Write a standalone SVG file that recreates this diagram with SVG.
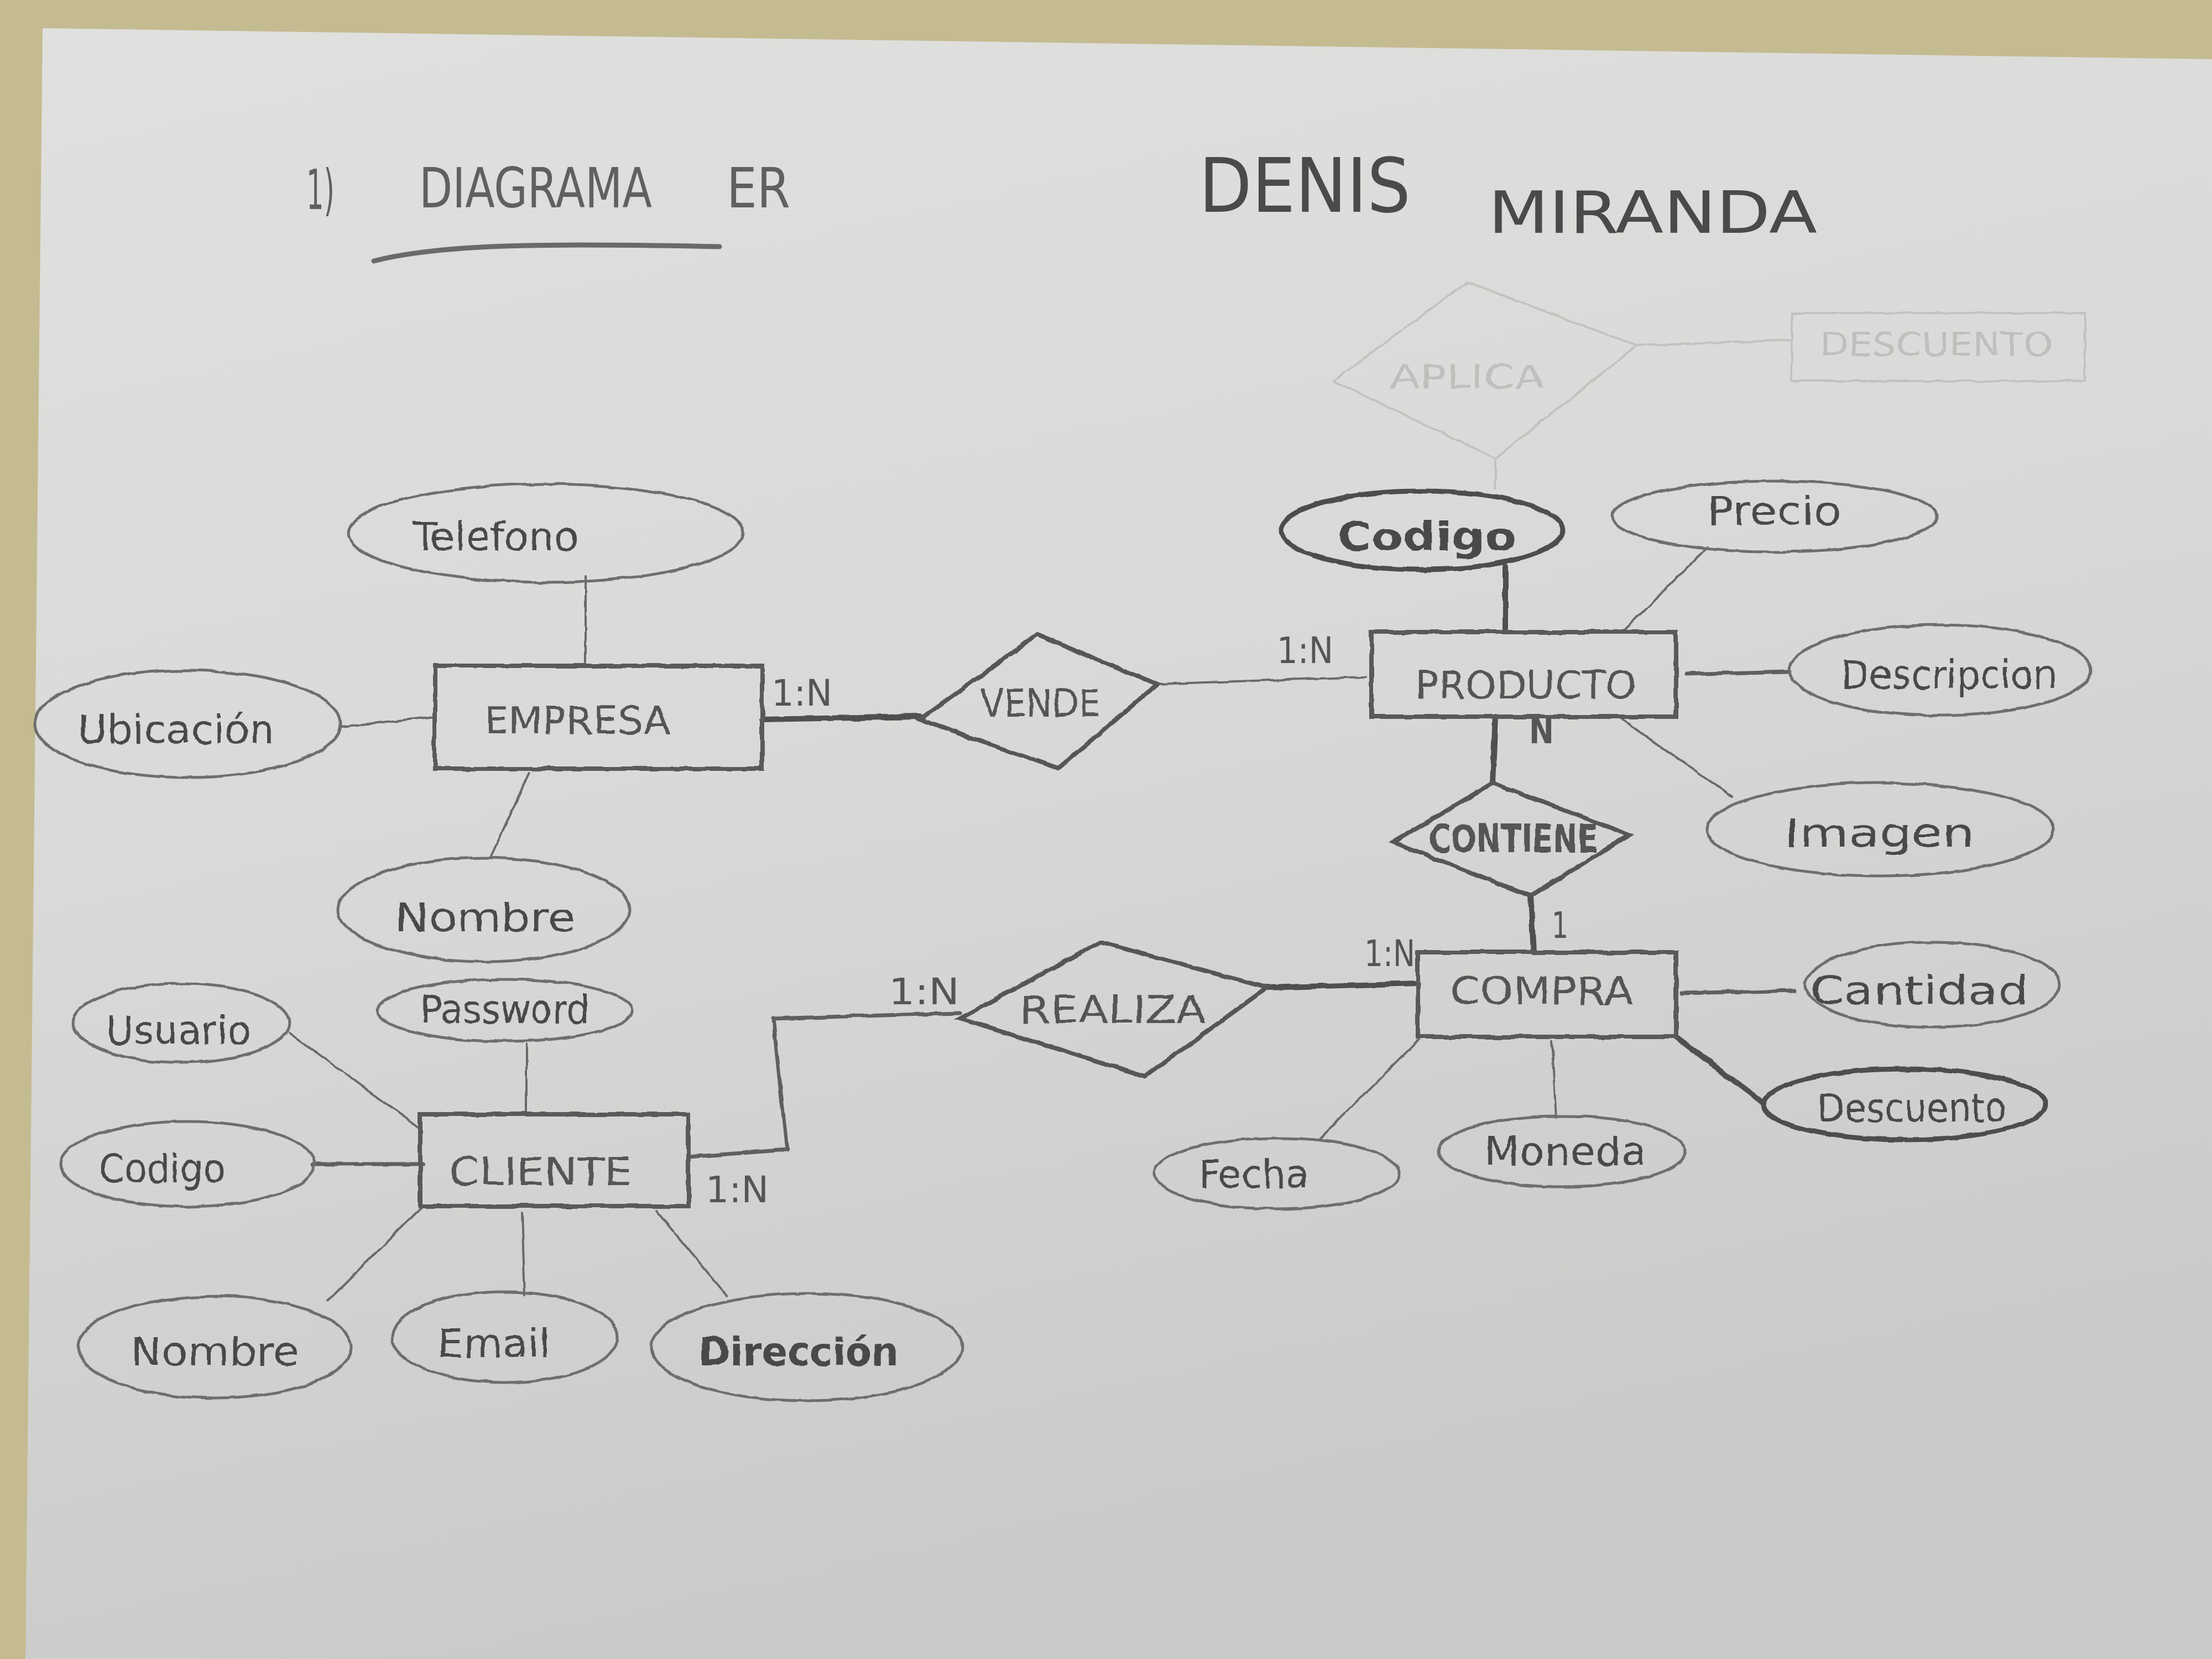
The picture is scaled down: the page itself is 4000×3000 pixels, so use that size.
<svg xmlns="http://www.w3.org/2000/svg" width="4000" height="3000" viewBox="0 0 4000 3000">
<defs>
<linearGradient id="paper" x1="0" y1="0" x2="0.3" y2="1">
<stop offset="0" stop-color="#e0e0de"/>
<stop offset="0.5" stop-color="#d9d9d7"/>
<stop offset="1" stop-color="#cacac8"/>
</linearGradient>
<filter id="pencil" x="-5%" y="-5%" width="110%" height="110%">
<feTurbulence type="fractalNoise" baseFrequency="0.03" numOctaves="2" seed="3" result="n"/>
<feDisplacementMap in="SourceGraphic" in2="n" scale="6" xChannelSelector="R" yChannelSelector="G"/>
</filter>
<style>
.ent{fill:none;stroke:#5a5a5a;stroke-width:8}
.rel{fill:none;stroke:#575757;stroke-width:8}
.att{fill:none;stroke:#6e6e6e;stroke-width:5}
.key{fill:none;stroke:#4e4e4e;stroke-width:9}
.ln{fill:none;stroke:#6a6a6a;stroke-width:4;stroke-linecap:round;stroke-linejoin:round}
.md{fill:none;stroke:#5e5e5e;stroke-width:7;stroke-linecap:round;stroke-linejoin:round}
.tk{fill:none;stroke:#4f4f4f;stroke-width:10;stroke-linecap:round;stroke-linejoin:round}
.faint{fill:none;stroke:#c2c2c0;stroke-width:4}
text{font-family:"DejaVu Sans Condensed","DejaVu Sans",sans-serif;fill:#4a4a4a}
.t{font-size:72px}
.e{font-size:70px;fill:#555}
.c{font-size:66px;fill:#555}
.h{font-size:100px;fill:#606060}
.ft{font-size:58px;fill:#bfbfbd}
</style>
</defs>
<rect width="4000" height="3000" fill="#c4bb91"/>
<polygon points="77,51 4000,107 4000,3000 46,3000" fill="url(#paper)"/>

<g id="title">
<text class="h" x="554" y="378" textLength="51" lengthAdjust="spacingAndGlyphs">1)</text>
<text class="h" x="758" y="375" textLength="421" lengthAdjust="spacingAndGlyphs">DIAGRAMA</text>
<text class="h" x="1314" y="375" textLength="115" lengthAdjust="spacingAndGlyphs">ER</text>
<path d="M676,472 C800,440 1000,440 1301,446" fill="none" stroke="#6a6a6a" stroke-width="9" stroke-linecap="round"/>
<text x="2168" y="383" font-size="135" fill="#5a5a5a" textLength="383" lengthAdjust="spacingAndGlyphs">DENIS</text>
<text x="2691" y="421" font-size="105" fill="#5a5a5a" textLength="595" lengthAdjust="spacingAndGlyphs">MIRANDA</text>
</g>

<g id="erased" filter="url(#pencil)">
<polygon class="faint" points="2411,689 2653,510 2959,625 2704,829"/>
<text class="ft" x="2513" y="702" textLength="280" lengthAdjust="spacingAndGlyphs">APLICA</text>
<rect class="faint" x="3240" y="566" width="530" height="123"/>
<text class="ft" x="3291" y="643" textLength="421" lengthAdjust="spacingAndGlyphs">DESCUENTO</text>
<line class="faint" x1="2959" y1="625" x2="3240" y2="615"/>
<line class="faint" x1="2704" y1="829" x2="2704" y2="885"/>
</g>

<g id="connectors" filter="url(#pencil)">
<line class="ln" x1="1059" y1="1041" x2="1059" y2="1199"/>
<line class="ln" x1="617" y1="1314" x2="786" y2="1296"/>
<line class="ln" x1="957" y1="1398" x2="888" y2="1548"/>
<line class="tk" x1="1378" y1="1301" x2="1663" y2="1296"/>
<line class="ln" x1="2092" y1="1237" x2="2469" y2="1224"/>
<line class="tk" x1="2722" y1="1025" x2="2722" y2="1140"/>
<line class="ln" x1="3087" y1="990" x2="2934" y2="1143"/>
<line class="md" x1="3049" y1="1219" x2="3235" y2="1214"/>
<line class="ln" x1="2934" y1="1301" x2="3133" y2="1441"/>
<line class="tk" x1="2704" y1="1296" x2="2699" y2="1416"/>
<line class="tk" x1="2768" y1="1620" x2="2773" y2="1722"/>
<line class="tk" x1="2291" y1="1786" x2="2564" y2="1778"/>
<polyline class="md" points="1245,2092 1423,2079 1398,1842 1735,1832"/>
<line class="md" x1="3041" y1="1796" x2="3245" y2="1791"/>
<line class="tk" x1="3031" y1="1875" x2="3189" y2="1995"/>
<line class="ln" x1="2806" y1="1883" x2="2814" y2="2020"/>
<line class="ln" x1="2571" y1="1875" x2="2385" y2="2061"/>
<line class="ln" x1="523" y1="1867" x2="760" y2="2041"/>
<line class="ln" x1="952" y1="1888" x2="952" y2="2015"/>
<line class="md" x1="566" y1="2105" x2="765" y2="2105"/>
<line class="ln" x1="592" y1="2352" x2="765" y2="2181"/>
<line class="ln" x1="944" y1="2194" x2="949" y2="2342"/>
<line class="ln" x1="1186" y1="2189" x2="1314" y2="2342"/>
</g>

<g id="cardinalities">
<text class="c" x="1395" y="1276" textLength="110" lengthAdjust="spacingAndGlyphs">1:N</text>
<text class="c" x="2309" y="1199" textLength="102" lengthAdjust="spacingAndGlyphs">1:N</text>
<text class="c" x="2765" y="1344" font-weight="bold" textLength="45" lengthAdjust="spacingAndGlyphs">N</text>
<text class="c" x="2806" y="1696" textLength="30" lengthAdjust="spacingAndGlyphs">1</text>
<text class="c" x="2467" y="1747" textLength="92" lengthAdjust="spacingAndGlyphs">1:N</text>
<text class="c" x="1607" y="1816" textLength="128" lengthAdjust="spacingAndGlyphs">1:N</text>
<text class="c" x="1276" y="2174" textLength="114" lengthAdjust="spacingAndGlyphs">1:N</text>
</g>

<g id="empresa" filter="url(#pencil)"><rect class="ent" x="786" y="1204" width="592" height="186"/><text class="e" x="875" y="1327" textLength="337" lengthAdjust="spacingAndGlyphs">EMPRESA</text></g>
<g id="producto" filter="url(#pencil)"><rect class="ent" x="2480" y="1143" width="551" height="153"/><text class="e" x="2559" y="1263" textLength="400" lengthAdjust="spacingAndGlyphs">PRODUCTO</text></g>
<g id="compra" filter="url(#pencil)"><rect class="ent" x="2564" y="1722" width="467" height="153"/><text class="e" x="2622" y="1816" textLength="332" lengthAdjust="spacingAndGlyphs">COMPRA</text></g>
<g id="cliente" filter="url(#pencil)"><rect class="ent" x="760" y="2015" width="485" height="166"/><text class="e" x="811" y="2143" font-size="80" textLength="332" lengthAdjust="spacingAndGlyphs">CLIENTE</text></g>

<g id="vende" filter="url(#pencil)"><polygon class="rel" points="1663,1301 1875,1148 2092,1237 1913,1390"/><text class="e" x="1773" y="1296" font-size="62" textLength="217" lengthAdjust="spacingAndGlyphs">VENDE</text></g>
<g id="contiene" filter="url(#pencil)"><polygon class="rel" points="2520,1523 2699,1416 2946,1510 2768,1620"/><text class="e" x="2584" y="1541" font-size="58" font-weight="bold" textLength="306" lengthAdjust="spacingAndGlyphs">CONTIENE</text></g>
<g id="realiza" filter="url(#pencil)"><polygon class="rel" points="1735,1842 1990,1704 2291,1786 2071,1946"/><text class="e" x="1844" y="1850" font-size="62" textLength="337" lengthAdjust="spacingAndGlyphs">REALIZA</text></g>

<g id="telefono" filter="url(#pencil)"><ellipse class="att" cx="987" cy="964" rx="357" ry="89"/><text class="t" x="747" y="995" textLength="299" lengthAdjust="spacingAndGlyphs">Telefono</text></g>
<g id="ubicacion" filter="url(#pencil)"><ellipse class="att" cx="339" cy="1309" rx="276" ry="97"/><text class="t" x="140" y="1344" textLength="357" lengthAdjust="spacingAndGlyphs">Ubicación</text></g>
<g id="nombre-empresa" filter="url(#pencil)"><ellipse class="att" cx="875" cy="1645" rx="263" ry="94"/><text class="t" x="714" y="1684" textLength="327" lengthAdjust="spacingAndGlyphs">Nombre</text></g>
<g id="codigo-producto" filter="url(#pencil)"><ellipse class="key" cx="2571" cy="959" rx="255" ry="71"/><text class="t" x="2418" y="995" font-size="80" font-weight="bold" textLength="324" lengthAdjust="spacingAndGlyphs">Codigo</text></g>
<g id="precio" filter="url(#pencil)"><ellipse class="att" cx="3209" cy="934" rx="293" ry="64"/><text class="t" x="3087" y="949" textLength="242" lengthAdjust="spacingAndGlyphs">Precio</text></g>
<g id="descripcion" filter="url(#pencil)"><ellipse class="att" cx="3508" cy="1212" rx="273" ry="82"/><text class="t" x="3329" y="1245" textLength="390" lengthAdjust="spacingAndGlyphs">Descripcion</text></g>
<g id="imagen" filter="url(#pencil)"><ellipse class="att" cx="3400" cy="1500" rx="314" ry="84"/><text class="t" x="3227" y="1531" font-size="80" textLength="344" lengthAdjust="spacingAndGlyphs">Imagen</text></g>
<g id="cantidad" filter="url(#pencil)"><ellipse class="att" cx="3495" cy="1781" rx="230" ry="77"/><text class="t" x="3273" y="1816" textLength="395" lengthAdjust="spacingAndGlyphs">Cantidad</text></g>
<g id="descuento" filter="url(#pencil)"><ellipse class="key" cx="3444" cy="1997" rx="255" ry="64"/><text class="t" x="3286" y="2028" textLength="342" lengthAdjust="spacingAndGlyphs">Descuento</text></g>
<g id="moneda" filter="url(#pencil)"><ellipse class="att" cx="2824" cy="2082" rx="224" ry="64"/><text class="t" x="2684" y="2107" textLength="293" lengthAdjust="spacingAndGlyphs">Moneda</text></g>
<g id="fecha" filter="url(#pencil)"><ellipse class="att" cx="2309" cy="2122" rx="222" ry="64"/><text class="t" x="2168" y="2148" textLength="199" lengthAdjust="spacingAndGlyphs">Fecha</text></g>
<g id="usuario" filter="url(#pencil)"><ellipse class="att" cx="327" cy="1850" rx="196" ry="71"/><text class="t" x="191" y="1888" textLength="263" lengthAdjust="spacingAndGlyphs">Usuario</text></g>
<g id="password" filter="url(#pencil)"><ellipse class="att" cx="913" cy="1827" rx="230" ry="56"/><text class="t" x="760" y="1850" textLength="306" lengthAdjust="spacingAndGlyphs">Password</text></g>
<g id="codigo-cliente" filter="url(#pencil)"><ellipse class="att" cx="339" cy="2105" rx="230" ry="77"/><text class="t" x="179" y="2138" textLength="229" lengthAdjust="spacingAndGlyphs">Codigo</text></g>
<g id="nombre-cliente" filter="url(#pencil)"><ellipse class="att" cx="388" cy="2436" rx="247" ry="92"/><text class="t" x="235" y="2469" textLength="306" lengthAdjust="spacingAndGlyphs">Nombre</text></g>
<g id="email" filter="url(#pencil)"><ellipse class="att" cx="913" cy="2418" rx="204" ry="82"/><text class="t" x="791" y="2454" textLength="204" lengthAdjust="spacingAndGlyphs">Email</text></g>
<g id="direccion" filter="url(#pencil)"><ellipse class="att" cx="1459" cy="2436" rx="281" ry="97"/><text class="t" x="1263" y="2469" font-weight="bold" textLength="362" lengthAdjust="spacingAndGlyphs">Dirección</text></g>
</svg>
